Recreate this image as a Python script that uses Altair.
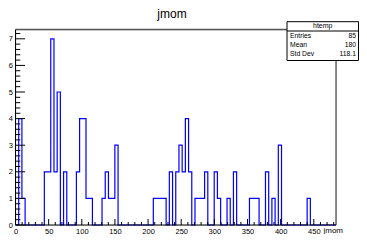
import altair as alt
import pandas as pd

# ---- data ----
bin_lo = 0.0
bin_width = 4.835
counts = [0, 4, 1, 0, 0, 0, 0, 0, 0, 2,
          2, 7, 2, 5, 0, 2, 0, 0, 0, 2,
          4, 4, 1, 1, 0, 0, 0, 1, 2, 1,
          1, 3, 0, 0, 0, 0, 0, 0, 0, 0,
          0, 0, 0, 1, 1, 1, 1, 0, 2, 0,
          2, 3, 2, 4, 2, 0, 1, 1, 1, 2,
          0, 0, 2, 1, 0, 0, 1, 0, 2, 0,
          0, 0, 0, 1, 1, 1, 0, 0, 2, 0,
          1, 0, 3, 0, 0, 0, 0, 0, 0, 0,
          0, 1, 0, 0, 0, 0, 0, 0, 0, 0]
x_major = [0, 50, 100, 150, 200, 250, 300, 350, 400, 450]
x_minor = [v for v in range(10, 490, 10) if v % 50 != 0]
y_major = [0, 1, 2, 3, 4, 5, 6, 7]
y_minor = [round(v * 0.2, 1) for v in range(1, 37) if v % 5 != 0]
stat_names = ["Entries", "Mean", "Std Dev"]
stat_values = ["85", "180", "118.1"]
hist_name = "htemp"
title_text = "jmom"
x_title = "jmom"

x_min, x_max = 0.0, 483.5
y_max = 7.35

W, H = 320.5, 195.5
FONT = "Liberation Sans"

edges = [bin_lo + i * bin_width for i in range(len(counts) + 1)]
hist_df = pd.DataFrame({"x": [edges[0]] + edges,
                        "y": [0] + counts + [0]})

xs = alt.Scale(domain=[x_min, x_max], nice=False, zero=False)
ys = alt.Scale(domain=[0, y_max], nice=False)

x_axis = alt.Axis(values=x_major, ticks=False, tickSize=0, domain=False,
                  grid=False, labelFont=FONT, labelFontSize=7.5,
                  labelColor="black", labelPadding=2,
                  labelFlush=False, labelOverlap=False, title=None)
y_axis = alt.Axis(values=y_major, ticks=False, tickSize=0, domain=False,
                  grid=False, labelFont=FONT, labelFontSize=7.5,
                  labelColor="black", labelPadding=3,
                  labelFlush=False, labelOverlap=False, title=None)

line = alt.Chart(hist_df).mark_line(
    interpolate="step-after", color="#0000ff", strokeWidth=1.2
).encode(
    x=alt.X("x:Q", scale=xs, axis=x_axis),
    y=alt.Y("y:Q", scale=ys, axis=y_axis),
)

xmaj_df = pd.DataFrame({"x": x_major})
xmin_df = pd.DataFrame({"x": x_minor})
ymaj_df = pd.DataFrame({"y": y_major})
ymin_df = pd.DataFrame({"y": y_minor})

tick_col = "black"
xt_major = alt.Chart(xmaj_df).mark_rule(color=tick_col, strokeWidth=1).encode(
    x=alt.X("x:Q", scale=xs, axis=x_axis), y=alt.value(H), y2=alt.value(H - 6))
xt_minor = alt.Chart(xmin_df).mark_rule(color=tick_col, strokeWidth=1).encode(
    x=alt.X("x:Q", scale=xs, axis=x_axis), y=alt.value(H), y2=alt.value(H - 3))
yt_major = alt.Chart(ymaj_df).mark_rule(color=tick_col, strokeWidth=1).encode(
    y=alt.Y("y:Q", scale=ys, axis=y_axis), x=alt.value(0), x2=alt.value(9.5))
yt_minor = alt.Chart(ymin_df).mark_rule(color=tick_col, strokeWidth=1).encode(
    y=alt.Y("y:Q", scale=ys, axis=y_axis), x=alt.value(0), x2=alt.value(4.8))

one = pd.DataFrame({"k": [0]})
frame_bottom = alt.Chart(one).mark_rule(color="black", strokeWidth=1).encode(
    x=alt.value(0), x2=alt.value(W), y=alt.value(H))
frame_left = alt.Chart(one).mark_rule(color="black", strokeWidth=1).encode(
    x=alt.value(0), y=alt.value(0), y2=alt.value(H))
frame_top = alt.Chart(one).mark_rule(color="#555", strokeWidth=1.4).encode(
    x=alt.value(0), x2=alt.value(W), y=alt.value(0))
frame_right = alt.Chart(one).mark_rule(color="#444", strokeWidth=1.2).encode(
    x=alt.value(W), y=alt.value(0), y2=alt.value(H))

# titles
title_df = pd.DataFrame({"ttl": [title_text]})
title = alt.Chart(title_df).mark_text(font=FONT, fontSize=12, color="#000000",
                                      align="center", baseline="middle").encode(
    text="ttl:N", x=alt.value(156.5), y=alt.value(-15.5))
xt_df = pd.DataFrame({"xttl": [x_title]})
xtitle = alt.Chart(xt_df).mark_text(font=FONT, fontSize=8, color="#000000",
                                    align="right", baseline="middle").encode(
    text="xttl:N", x=alt.value(W + 7), y=alt.value(H + 5.5))

# stats box
bx0, bx1, by0, by1 = W - 49, W + 22.5, -7.8, 31
box = alt.Chart(one).mark_rect(fill="white", stroke="black", strokeWidth=1).encode(
    x=alt.value(bx0), x2=alt.value(bx1), y=alt.value(by0), y2=alt.value(by1))
box_sep = alt.Chart(one).mark_rule(color="black", strokeWidth=1).encode(
    x=alt.value(bx0), x2=alt.value(bx1), y=alt.value(1.5))
row_y = alt.Scale(domain=[0, 2], range=[6.5, 24.8])
hdr_df = pd.DataFrame({"hname": [hist_name], "row": [-1.05]})
hdr = alt.Chart(hdr_df).mark_text(font=FONT, fontSize=7, fill="#000000",
                                  align="center", baseline="middle").encode(
    text="hname:N", x=alt.value((bx0 + bx1) / 2),
    y=alt.Y("row:Q", scale=row_y, axis=None))
stats_df = pd.DataFrame({"name": stat_names, "val": stat_values,
                         "row": [0, 1, 2]})
st_names = alt.Chart(stats_df).mark_text(font=FONT, fontSize=6.8, fill="#000000",
                                         align="left", baseline="middle").encode(
    text="name:N", x=alt.value(bx0 + 3),
    y=alt.Y("row:Q", scale=row_y, axis=None))
st_vals = alt.Chart(stats_df).mark_text(font=FONT, fontSize=6.8, fill="#000000",
                                        align="right", baseline="middle").encode(
    text="val:N", x=alt.value(bx1 - 2.5),
    y=alt.Y("row:Q", scale=row_y, axis=None))
stats = alt.layer(box, box_sep, hdr, st_names, st_vals)

main = alt.layer(line, xt_minor, xt_major, yt_minor, yt_major,
                 frame_top, frame_right, frame_bottom, frame_left,
                 title, xtitle)

chart = alt.layer(main, stats).resolve_scale(y="independent").properties(
    width=W, height=H,
    autosize=alt.AutoSizeParams(type="none"),
    padding={"left": 7.5, "top": 21.5, "right": 23, "bottom": 9},
).configure_view(stroke=None).configure_axis(labelOverlap=False).configure(
    background="white")

chart.save("out.html", embed_options={"renderer": "svg", "actions": False})
